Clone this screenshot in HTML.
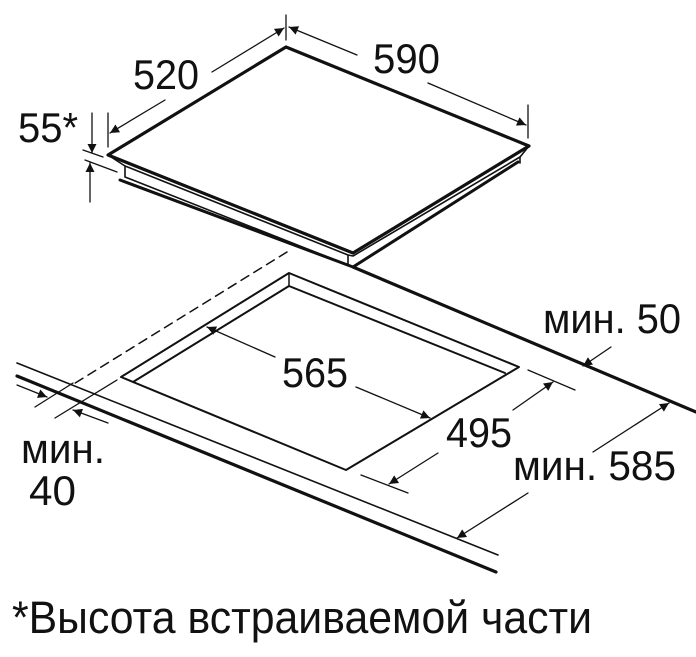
<!DOCTYPE html>
<html><head><meta charset="utf-8"><style>
html,body{margin:0;padding:0;background:#fff;}
svg{display:block;}
text{font-family:"Liberation Sans","DejaVu Sans",sans-serif;fill:#111;}
</style></head><body>
<svg width="696" height="657" viewBox="0 0 696 657" xmlns="http://www.w3.org/2000/svg">
<defs>
<marker id="a" viewBox="0 0 10 10" refX="10" refY="5" markerWidth="13" markerHeight="9" markerUnits="userSpaceOnUse" orient="auto"><path d="M0,0 L10,5 L0,10 z" fill="#111"/></marker>
</defs>
<g stroke="#111" fill="none" stroke-linecap="round" stroke-linejoin="round">
<path d="M286,47 L529,146 L353,253 L108,155 Z" stroke-width="3.2" fill="#fff"/>
<path d="M108,155 L125,166 L348,255 L353,256 L520,157 L529,146" stroke-width="1.6"/>
<path d="M125,166 L125,177 L348,265 L348,255" stroke-width="1.6"/>
<path d="M520,157 L520,163" stroke-width="1.6"/>
<path d="M120,180 L353,267 L518,162" stroke-width="3"/>
<path d="M353,267 L696,412" stroke-width="3.2"/>
<path d="M287,252 L72,385" stroke-width="1.5" stroke-dasharray="9,6"/>
<path d="M289,273 L519,367 L346,470 L121,377 Z" stroke-width="2"/>
<path d="M133,382 L289,286 L505,373" stroke-width="2"/>
<path d="M289,273 L289,286" stroke-width="1.5"/>
<path d="M17,363 L498,555" stroke-width="1.6"/>
<path d="M17,376 L496,572" stroke-width="3.2"/>
<path d="M108,113 L108,147" stroke-width="1.3"/>
<path d="M165,100 L110,133" stroke-width="1.3" marker-end="url(#a)"/>
<path d="M212,72 L284,28" stroke-width="1.3" marker-end="url(#a)"/>
<path d="M286,15 L286,40" stroke-width="1.3"/>
<path d="M357,55 L289,27" stroke-width="1.3" marker-end="url(#a)"/>
<path d="M428,83 L526,125" stroke-width="1.3" marker-end="url(#a)"/>
<path d="M528,105 L528,138" stroke-width="1.3"/>
<path d="M92,113 L92,153" stroke-width="1.3" marker-end="url(#a)"/>
<path d="M90,202 L90,163" stroke-width="1.3" marker-end="url(#a)"/>
<path d="M83,150 L103,157" stroke-width="1.3"/>
<path d="M85,160 L117,172" stroke-width="1.3"/>
<path d="M35,407 L73,383" stroke-width="1.3"/>
<path d="M55,418 L117,380" stroke-width="1.3"/>
<path d="M17,385 L47,397" stroke-width="1.3" marker-end="url(#a)"/>
<path d="M108,423 L73,410" stroke-width="1.3" marker-end="url(#a)"/>
<path d="M275,357 L207,327" stroke-width="1.3" marker-end="url(#a)"/>
<path d="M356,387 L430,418" stroke-width="1.3" marker-end="url(#a)"/>
<path d="M528,370 L575,390" stroke-width="1.3"/>
<path d="M361,475 L408,493" stroke-width="1.3"/>
<path d="M513,410 L553,382" stroke-width="1.3" marker-end="url(#a)"/>
<path d="M438,453 L389,484" stroke-width="1.3" marker-end="url(#a)"/>
<path d="M611,347 L583,366" stroke-width="1.3" marker-end="url(#a)"/>
<path d="M593,452 L669,403" stroke-width="1.3" marker-end="url(#a)"/>
<path d="M528,493 L457,538" stroke-width="1.3" marker-end="url(#a)"/>
</g>
<g font-size="42">
<text x="133" y="89" textLength="66" lengthAdjust="spacingAndGlyphs">520</text>
<text x="373" y="73" textLength="67" lengthAdjust="spacingAndGlyphs">590</text>
<text x="18" y="142" textLength="60" lengthAdjust="spacingAndGlyphs">55*</text>
<text x="282" y="387" textLength="66" lengthAdjust="spacingAndGlyphs">565</text>
<text x="446" y="447" textLength="66" lengthAdjust="spacingAndGlyphs">495</text>
<text x="543" y="333" textLength="138" lengthAdjust="spacingAndGlyphs">мин. 50</text>
<text x="513" y="480" textLength="163" lengthAdjust="spacingAndGlyphs">мин. 585</text>
<text x="21" y="463" textLength="84" lengthAdjust="spacingAndGlyphs">мин.</text>
<text x="29" y="505" textLength="47" lengthAdjust="spacingAndGlyphs">40</text>
<text x="12" y="633" font-size="45" textLength="580" lengthAdjust="spacingAndGlyphs">*Высота встраиваемой части</text>
</g>
</svg>
</body></html>
